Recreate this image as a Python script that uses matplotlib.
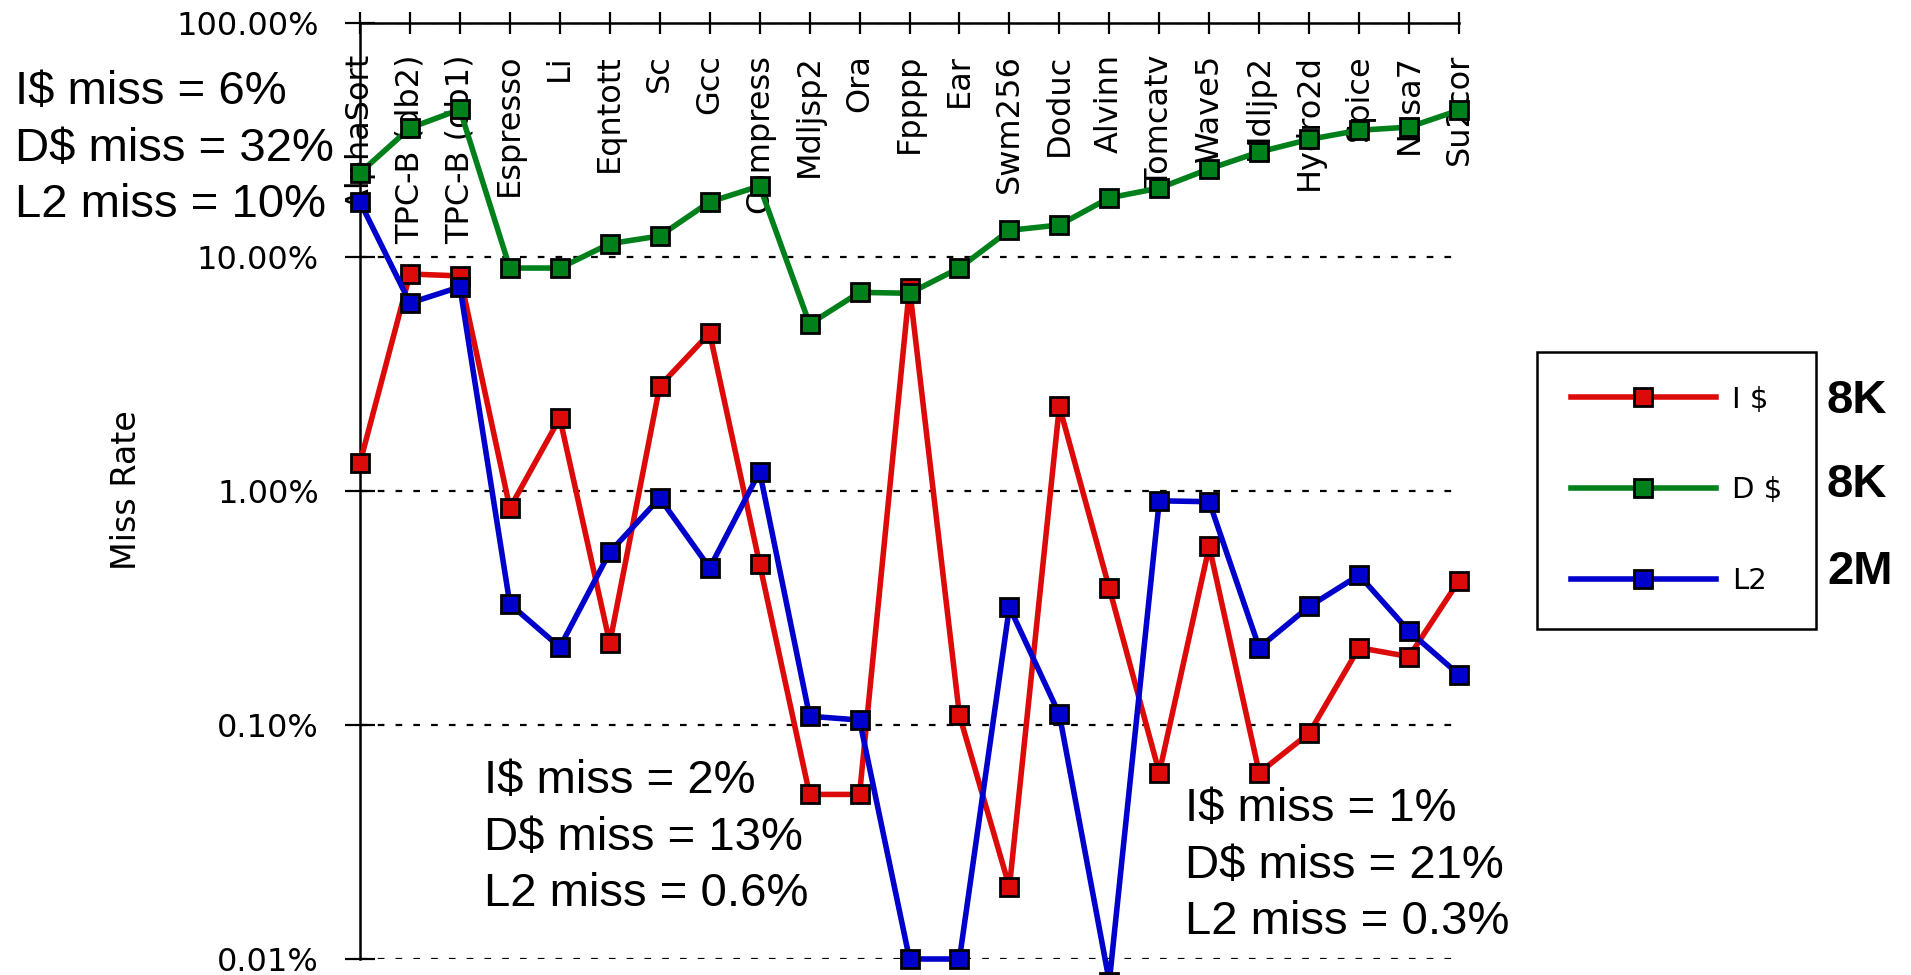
import matplotlib
matplotlib.use("Agg")
import matplotlib.pyplot as plt
from matplotlib.ticker import NullLocator, FixedLocator, FixedFormatter

# benchmark names along the top
benchmarks = ["AlphaSort", "TPC-B (db2)", "TPC-B (db1)", "Espresso", "Li", "Eqntott",
              "Sc", "Gcc", "Compress", "Mdljsp2", "Ora", "Fpppp", "Ear", "Swm256",
              "Doduc", "Alvinn", "Tomcatv", "Wave5", "Mdljp2", "Hydro2d", "Spice",
              "Nasa7", "Su2cor"]

# miss rates in percent
icache = [1.32, 8.46, 8.3, 0.845, 2.05, 0.224, 2.81, 4.73, 0.488, 0.0505, 0.0505, 7.4,
          0.110, 0.0203, 2.30, 0.384, 0.0625, 0.580, 0.0625, 0.0922, 0.214, 0.196, 0.414]
dcache = [22.9, 35.6, 42.7, 8.97, 8.97, 11.4, 12.3, 17.2, 20.1, 5.17, 7.06, 7.0,
          8.98, 13.0, 13.7, 17.9, 19.7, 23.8, 28.1, 31.8, 34.8, 35.9, 42.4]
l2cache = [17.2, 6.36, 7.45, 0.329, 0.215, 0.548, 0.933, 0.469, 1.21, 0.109, 0.105, 0.01,
           0.01, 0.319, 0.111, 0.008, 0.908, 0.90, 0.214, 0.321, 0.437, 0.252, 0.164]

series_names = ["I $", "D $", "L2"]
series_sizes = ["8K", "8K", "2M"]
series_colors = ["#dd0a0a", "#00801a", "#0000cc"]

ytick_vals = [0.01, 0.1, 1, 10, 100]
ytick_labels = ["0.01%", "0.10%", "1.00%", "10.00%", "100.00%"]

notes = [
    ("I$ miss = 6%\nD$ miss = 32%\nL2 miss = 10%", 15, 70),
    ("I$ miss = 2%\nD$ miss = 13%\nL2 miss = 0.6%", 484, 759),
    ("I$ miss = 1%\nD$ miss = 21%\nL2 miss = 0.3%", 1185, 787),
]

W, H = 1911, 975
fig = plt.figure(figsize=(W / 100, H / 100), dpi=100)
ax = fig.add_axes([360 / W, 1 - 959 / H, (1459 - 360) / W, (959 - 23) / H])

x = list(range(len(benchmarks)))
handles = []
for vals, name, col in zip([icache, dcache, l2cache], series_names, series_colors):
    h, = ax.plot(x, vals, color=col, lw=4, marker="s", markersize=13,
                 markerfacecolor=col, markeredgecolor="black", markeredgewidth=2,
                 clip_on=False, zorder=3, label=name)
    handles.append(h)

ax.set_yscale("log")
ax.set_ylim(0.01, 100)
ax.set_xlim(0, len(benchmarks) - 1)
ax.yaxis.set_major_locator(FixedLocator(ytick_vals))
ax.yaxis.set_major_formatter(FixedFormatter(ytick_labels))
ax.yaxis.set_minor_locator(NullLocator())
ax.set_xticks(x)

ax.tick_params(axis="y", direction="inout", length=21, width=1.6, pad=19,
               labelsize=23, left=True)
ax.tick_params(axis="x", direction="inout", length=16, width=1.6, top=True,
               bottom=False, labeltop=False, labelbottom=False)
for lbl in ax.get_yticklabels():
    lbl.set_family("DejaVu Sans")

ax.yaxis.grid(True, which="major", color="black", linestyle=(0, (3, 5)), linewidth=1.6)
ax.spines["right"].set_visible(False)
ax.spines["bottom"].set_visible(False)
ax.spines["left"].set_linewidth(1.8)
ax.spines["top"].set_linewidth(1.8)

# benchmark names hang under the top axis
for i, name in enumerate(benchmarks):
    ax.text(i, 1 - 31 / 936, name, transform=ax.get_xaxis_transform(), rotation=90,
            ha="center", va="top", fontsize=23, family="DejaVu Sans", zorder=1)

fig.text(127 / W, 1 - 490 / H, "Miss Rate", rotation=90, ha="center", va="center",
         fontsize=24, family="DejaVu Sans")

for txt, px, py in notes:
    fig.text(px / W, 1 - py / H, txt, ha="left", va="top", fontsize=34,
             family="Liberation Sans", linespacing=1.37)

leg = ax.legend(handles=handles, loc="upper left", bbox_to_anchor=(1537 / W, 1 - 352 / H),
                bbox_transform=fig.transFigure, borderaxespad=0, frameon=True,
                fancybox=False, edgecolor="black", framealpha=1, borderpad=1.15,
                handlelength=5.0, handletextpad=0.55, labelspacing=2.15,
                prop={"family": "DejaVu Sans", "size": 21})
leg.get_frame().set_linewidth(1.8)

for sz, py in zip(series_sizes, [401, 485, 572]):
    fig.text(1827 / W, 1 - py / H, sz, ha="left", va="center", fontsize=34,
             fontweight="bold", family="Liberation Sans")

fig.savefig("out.png", dpi=100)
